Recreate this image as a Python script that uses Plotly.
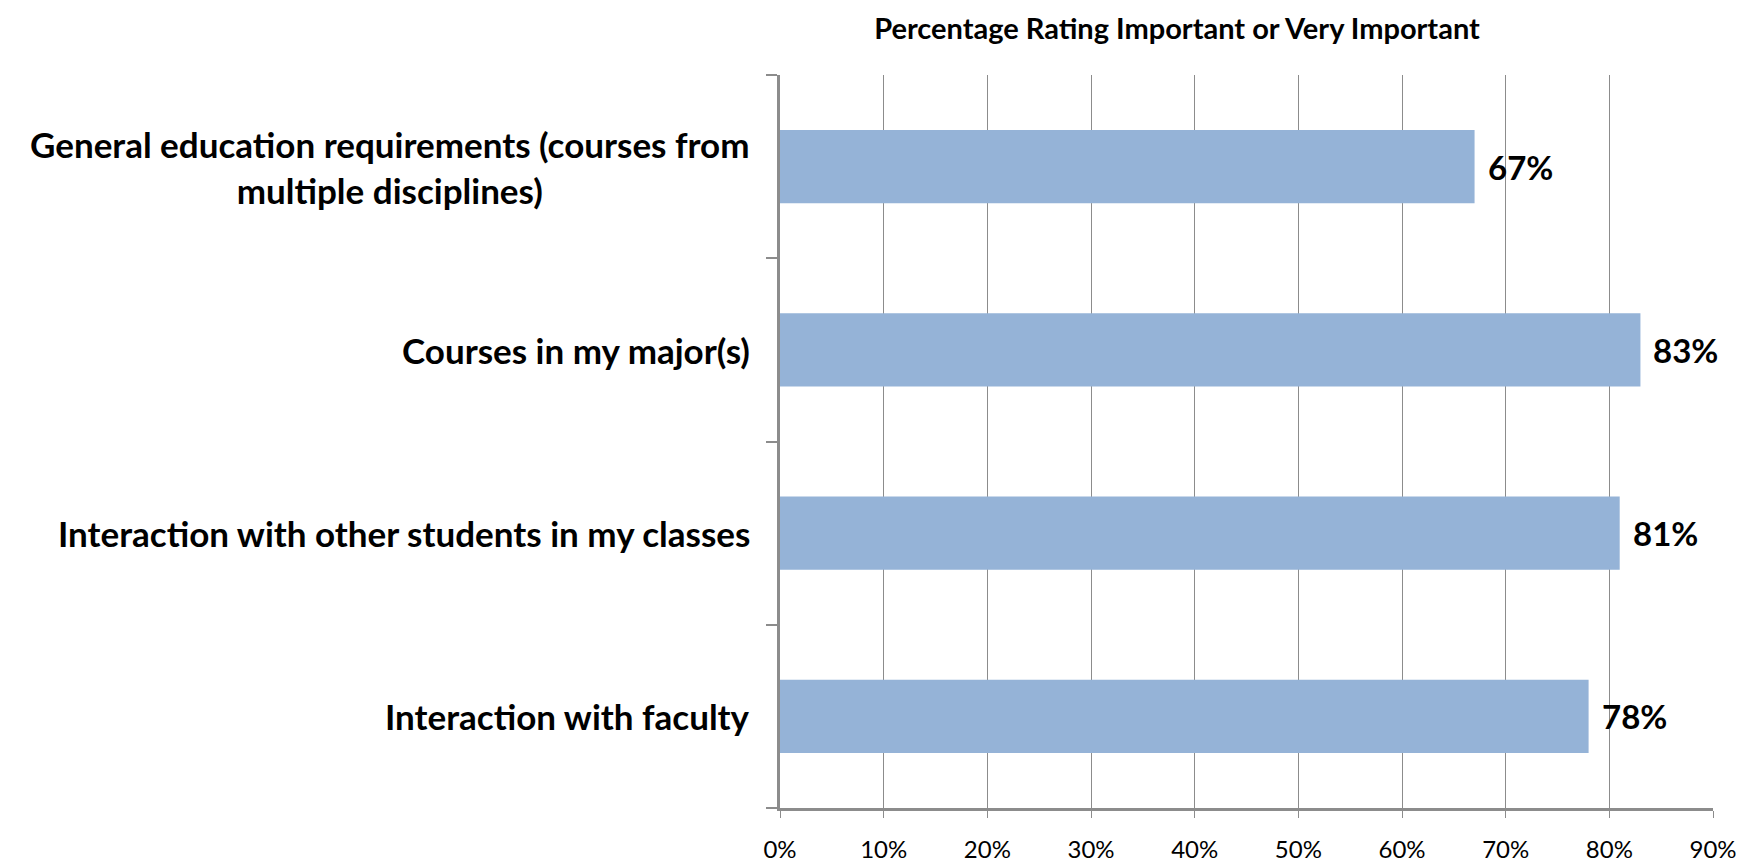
import plotly.graph_objects as go

categories = [
    "Interaction with faculty",
    "Interaction with other students in my classes",
    "Courses in my major(s)",
    "General education requirements (courses from<br>multiple disciplines)",
]
values = [78, 81, 83, 67]
x_ticks = list(range(0, 91, 10))

BAR_COLOR = "#95B3D7"
GRID = "#8c8c8c"
FONT = "Lato"

W, H = 1744, 867
pos = list(range(len(categories)))

fig = go.Figure(go.Bar(
    x=values, y=pos, orientation="h",
    marker=dict(color=BAR_COLOR, line=dict(width=0)),
    width=0.4, showlegend=False, hoverinfo="skip",
))

# category labels (centred multi-line text, right edge near the axis)
for p, c in zip(pos, categories):
    fig.add_annotation(x=0, xref="paper", y=p, yref="y", text=c,
                       xanchor="right", yanchor="middle", align="center",
                       xshift=-28, showarrow=False,
                       font=dict(family=FONT, size=35, color="black", weight="bold"))

# value labels
for p, v in zip(pos, values):
    fig.add_annotation(x=v, xref="x", y=p, yref="y", text=f"{v}%",
                       xanchor="left", yanchor="middle", xshift=11, showarrow=False,
                       font=dict(family=FONT, size=33, color="black", weight="bold"))

fig.update_xaxes(
    range=[0, 90], tickvals=x_ticks, ticktext=[f"{t}%" for t in x_ticks],
    showgrid=True, gridcolor=GRID, gridwidth=1.3,
    showline=True, linecolor=GRID, linewidth=2.5,
    ticks="outside", ticklen=7, tickcolor=GRID, tickwidth=1.3,
    ticklabelstandoff=11,
    tickfont=dict(family=FONT, size=24, color="black"),
    zeroline=False, fixedrange=True,
)
fig.update_yaxes(
    range=[-0.5, 3.5], tickvals=pos, showticklabels=False, ticks="",
    showgrid=False, zeroline=False,
    showline=True, linecolor=GRID, linewidth=2.5,
    minor=dict(tick0=0.5, dtick=1, ticks="outside", ticklen=11, tickcolor=GRID, tickwidth=2),
)

fig.update_layout(
    width=W, height=H,
    paper_bgcolor="white", plot_bgcolor="white",
    margin=dict(l=772, r=39, t=67, b=46),
    title=dict(text="Percentage Rating Important or Very Important",
               x=1169 / W, xanchor="center", y=1 - 21 / H, yanchor="middle",
               font=dict(family=FONT, size=29, color="black", weight="bold")),
)

fig.write_html("out.html")
